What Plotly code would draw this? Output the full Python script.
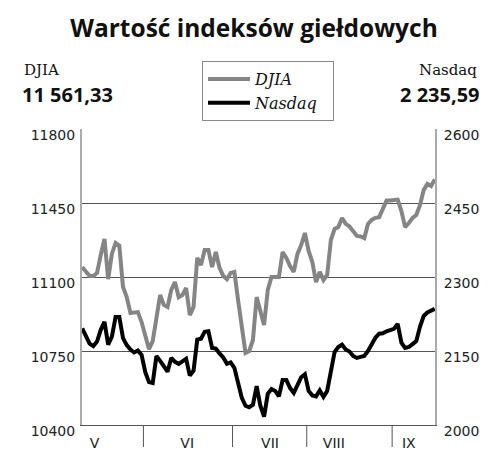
import plotly.graph_objects as go

# ---- data ----
djia = [11147, 11124, 11105, 11105, 11119, 11204, 11280, 11090, 11209, 11261,
        11249, 11053, 11005, 10930, 10934, 10934, 10887, 10821, 10759, 10797,
        10920, 11015, 10968, 10958, 11039, 11076, 11005, 11015, 11048, 10920,
        10958, 11190, 11157, 11228, 11228, 11147, 11218, 11143, 11105, 11090,
        11119, 11124, 10991, 10849, 10741, 10750, 10802, 11005, 10939, 10873,
        11039, 11100, 11100, 11100, 11218, 11190, 11152, 11124, 11209, 11251,
        11308, 11223, 11171, 11076, 11124, 11086, 11110, 11275, 11327, 11336,
        11379, 11351, 11339, 11313, 11294, 11292, 11284, 11351, 11370, 11380,
        11383, 11422, 11462, 11462, 11464, 11466, 11412, 11336, 11355, 11379,
        11393, 11440, 11511, 11540, 11530, 11561.33]
nasdaq = [2196, 2178, 2165, 2160, 2169, 2193, 2209, 2163, 2179, 2219,
          2219, 2176, 2162, 2153, 2147, 2151, 2142, 2107, 2087, 2085,
          2140, 2130, 2118, 2108, 2136, 2128, 2124, 2128, 2134, 2100,
          2110, 2173, 2175, 2189, 2190, 2156, 2155, 2145, 2137, 2124,
          2127, 2116, 2085, 2055, 2039, 2036, 2041, 2079, 2039, 2017,
          2063, 2073, 2069, 2058, 2091, 2091, 2075, 2065, 2081, 2097,
          2103, 2069, 2060, 2058, 2070, 2057, 2069, 2114, 2148, 2158,
          2163, 2153, 2149, 2140, 2136, 2138, 2140, 2150, 2164, 2177,
          2185, 2186, 2190, 2192, 2195, 2205, 2167, 2156, 2158, 2164,
          2170, 2199, 2221, 2228, 2231, 2235.59]
days = list(range(len(djia)))
months = ["V", "VI", "VII", "VIII", "IX"]
month_label_at = [3.3, 28.3, 50.6, 67.8, 88.0]
month_bounds = [16.5, 40.5, 60.5, 83.5]
djia_ticks = [10400, 10750, 11100, 11450, 11800]
nasdaq_ticks = [2000, 2150, 2300, 2450, 2600]
djia_last = "11 561,33"
nasdaq_last = "2 235,59"

# target geometry in window pixels; the page body adds an 8px offset
OFF = 8
PL, PR, PT, PB = 82, 435, 129, 425
W, H = 500 - OFF, 460 - OFF
L, T = PL - OFF, PT - OFF
R, B = W - (PR - OFF), H - (PB - OFF)
PW, PH = PR - PL, PB - PT


def px(x):
    return (x - PL) / PW


def py(y):
    return (PB - y) / PH


PAD = "\u00a0\u00a0"
fig = go.Figure()
fig.add_trace(go.Scatter(x=days, y=djia, name="DJIA", mode="lines",
                         line=dict(color="#858585", width=4), yaxis="y"))
fig.add_trace(go.Scatter(x=days, y=nasdaq, name="Nasdaq" + PAD, mode="lines",
                         line=dict(color="#000000", width=4), yaxis="y2"))

tickfont = dict(family="DejaVu Sans", size=14, color="#222")

fig.update_layout(
    width=W, height=H,
    margin=dict(l=L, r=R, t=T, b=B, autoexpand=False),
    paper_bgcolor="white", plot_bgcolor="white",
    showlegend=True,
    legend=dict(x=px(202), y=py(61), xanchor="left", yanchor="top",
                bordercolor="#888", borderwidth=1, bgcolor="white",
                font=dict(family="DejaVu Serif", size=16, style="italic", color="#111"),
                tracegroupgap=0, itemwidth=42),
    xaxis=dict(range=[-0.05, len(djia) - 0.95], tickvals=month_label_at, ticktext=months,
               showgrid=False, zeroline=False, showline=True, linecolor="#555",
               linewidth=1, ticks="", tickfont=tickfont, ticklabelstandoff=5,
               automargin=False),
    yaxis=dict(range=[10400, 11800], tickvals=djia_ticks, tickformat="d", showgrid=True,
               gridcolor="#555", gridwidth=1, zeroline=False, showline=True,
               linecolor="#aaa", linewidth=2, ticks="", tickfont=tickfont,
               ticklabelshift=6, ticklabelstandoff=2, automargin=False),
    yaxis2=dict(range=[2000, 2600], tickvals=nasdaq_ticks, tickformat="d", overlaying="y",
                side="right", showgrid=False, zeroline=False, showline=True,
                linecolor="#aaa", linewidth=2, ticks="", tickfont=tickfont,
                ticklabelshift=6, ticklabelstandoff=4, automargin=False),
    title=dict(text="<b>Wartość indeksów giełdowych</b>", x=0.5, xanchor="center",
               y=1 - (28 - OFF) / H, yanchor="middle", yref="container",
               font=dict(family="Open Sans", size=24.5, color="#111")),
)

for b in month_bounds:
    fig.add_shape(type="line", xref="x", yref="paper", x0=b, x1=b, y0=0, y1=-22 / PH,
                  line=dict(color="#555", width=1))

serif = dict(family="DejaVu Serif", size=15, color="#111")
bold = dict(family="Open Sans", size=20, color="#111")
fig.add_annotation(text="DJIA", xref="paper", yref="paper", x=px(22), y=py(70),
                   xanchor="left", yanchor="middle", showarrow=False, font=serif)
fig.add_annotation(text="<b>" + djia_last + "</b>", xref="paper", yref="paper",
                   x=px(20), y=py(94), xanchor="left", yanchor="middle",
                   showarrow=False, font=bold)
fig.add_annotation(text="Nasdaq", xref="paper", yref="paper", x=px(479), y=py(70),
                   xanchor="right", yanchor="middle", showarrow=False, font=serif)
fig.add_annotation(text="<b>" + nasdaq_last + "</b>", xref="paper", yref="paper",
                   x=px(482), y=py(94), xanchor="right", yanchor="middle",
                   showarrow=False, font=bold)

fig.write_html("out.html")
